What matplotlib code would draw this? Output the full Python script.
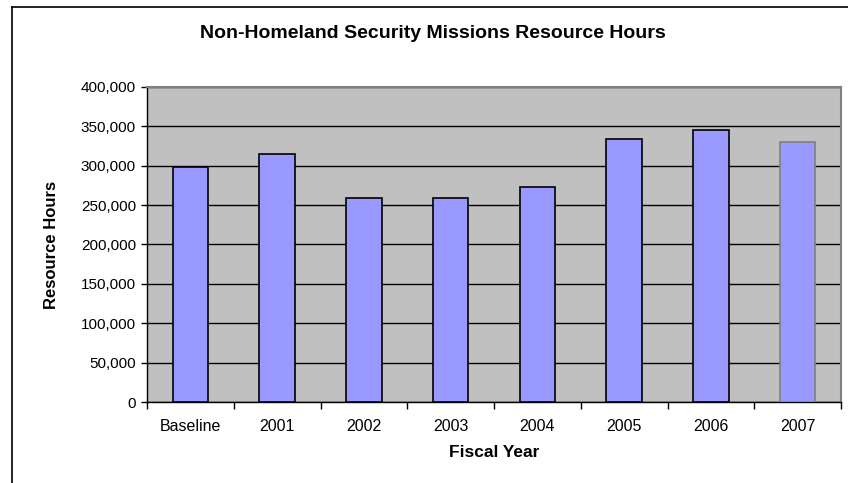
import matplotlib
matplotlib.use('Agg')
import matplotlib.pyplot as plt
from matplotlib.lines import Line2D
from matplotlib.ticker import FuncFormatter, FixedLocator
import numpy as np

plt.rcParams['font.family'] = ['Liberation Sans', 'DejaVu Sans']

# Resource hours by fiscal year
years = ['Baseline', '2001', '2002', '2003', '2004', '2005', '2006', '2007']
hours = [298000, 315000, 258500, 258500, 273500, 334000, 345000, 330000]
y_ticks = [0, 50000, 100000, 150000, 200000, 250000, 300000, 350000, 400000]

W, H = 848, 483
fig = plt.figure(figsize=(W / 100, H / 100), dpi=100)
fig.patch.set_facecolor('white')

# Outer chart border (left and top edges only show)
fig.add_artist(Line2D([12 / W, 12 / W], [0, 1 - 7 / H], color='black', lw=1.2,
                      transform=fig.transFigure))
fig.add_artist(Line2D([12 / W, 1], [1 - 7 / H, 1 - 7 / H], color='black', lw=1.2,
                      transform=fig.transFigure))

ax = fig.add_axes([147 / W, (H - 402) / H, (841 - 147) / W, (402 - 87) / H])
ax.set_facecolor('#C0C0C0')

x = np.arange(len(years))
edges = ['black'] * (len(years) - 1) + ['#808080']
ax.bar(x, hours, width=0.41, color='#9999FF', edgecolor=edges, linewidth=1.2,
       zorder=3)

ax.set_xlim(-0.5, len(years) - 0.5)
ax.set_ylim(0, 400000)
ax.yaxis.set_major_locator(FixedLocator(y_ticks))
ax.yaxis.set_major_formatter(FuncFormatter(lambda v, p: f'{int(v):,}'))
ax.grid(axis='y', color='black', linewidth=1, zorder=1)
ax.set_axisbelow(True)

ax.set_xticks(x)
ax.set_xticklabels(years)
ax.set_xticks(np.arange(len(years) + 1) - 0.5, minor=True)
ax.tick_params(axis='x', which='major', length=0, pad=12, labelsize=11.5)
ax.tick_params(axis='x', which='minor', length=5, width=1, direction='out')
ax.tick_params(axis='y', length=4, width=1, direction='out', labelsize=11, pad=4)

for side in ['top', 'right']:
    ax.spines[side].set_color('#808080')
    ax.spines[side].set_linewidth(1.5)
for side in ['left', 'bottom']:
    ax.spines[side].set_color('black')
    ax.spines[side].set_linewidth(1)

ax.set_xlabel('Fiscal Year', fontsize=12.5, fontweight='bold', labelpad=8)
ax.set_ylabel('Resource Hours', fontsize=12, fontweight='bold', labelpad=16)

fig.text(433 / W, 1 - 33 / H, 'Non-Homeland Security Missions Resource Hours',
         ha='center', va='center', fontsize=14, fontweight='bold')

fig.savefig('out.png', dpi=100)
